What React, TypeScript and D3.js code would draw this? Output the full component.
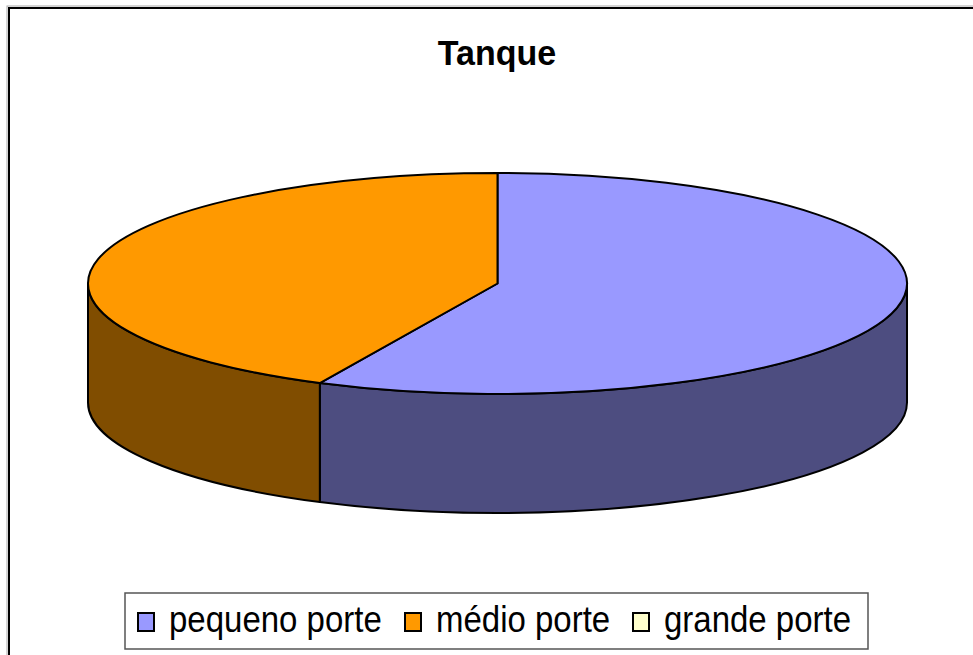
import * as d3 from "d3";
import { useEffect } from "react";

// values (grande porte has no share)
const categories = ["pequeno porte", "médio porte", "grande porte"];
const values = [4, 3, 0];
const topColors = ["#9999FF", "#FF9900", "#FFFFCC"];
const sideColors = ["#4D4D80", "#804D00", "#80806A"];

const W = 973;
const H = 655;

export default function App() {
  useEffect(() => {
    document.body.style.margin = "0";
  }, []);

  // pie geometry
  const cx = 497.5;
  const cy = 283.5;
  const rx = 409.5;
  const ry = 110.5;
  const depth = 119;

  const slices = d3
    .pie<number>()
    .sort(null)
    .startAngle(0)
    .endAngle(2 * Math.PI)(values);

  const arc = d3.arc<d3.PieArcDatum<number>>().innerRadius(0).outerRadius(rx);

  const pt = (a: number, dy = 0) =>
    [cx + rx * Math.sin(a), cy - ry * Math.cos(a) + dy] as const;

  // side wall for the part of a slice that faces the viewer (90°..270°)
  const sidePath = (s: d3.PieArcDatum<number>) => {
    const a0 = Math.max(s.startAngle, Math.PI / 2);
    const a1 = Math.min(s.endAngle, (3 * Math.PI) / 2);
    if (a1 <= a0) return null;
    const p0 = pt(a0);
    const p1 = pt(a1);
    const q1 = pt(a1, depth);
    const q0 = pt(a0, depth);
    const large = a1 - a0 > Math.PI ? 1 : 0;
    return `M${p0[0]},${p0[1]}A${rx},${ry} 0 ${large} 1 ${p1[0]},${p1[1]}L${q1[0]},${q1[1]}A${rx},${ry} 0 ${large} 0 ${q0[0]},${q0[1]}Z`;
  };

  // legend layout
  const legendX = [138, 405, 633];
  const legendTextX = [169, 436, 664];

  return (
    <svg
      width={W}
      height={H}
      style={{ position: "absolute", left: 0, top: 0, background: "#fff" }}
      fontFamily="'Liberation Sans', Arial, sans-serif"
    >
      {/* chart frame */}
      <rect x={7} y={6} width={1000} height={700} fill="none" stroke="#aaa" strokeWidth={1} />
      <rect x={9} y={8} width={1000} height={700} fill="#fff" stroke="#000" strokeWidth={2} />

      <text
        transform="translate(497,65) scale(1,1.05)"
        textAnchor="middle"
        fontSize={34}
        fontWeight="bold"
      >
        Tanque
      </text>

      {/* sides */}
      {slices.map((s, i) => {
        const d = sidePath(s);
        return d ? (
          <path key={"side" + i} d={d} fill={sideColors[i]} stroke="#000" strokeWidth={2} strokeLinejoin="round" />
        ) : null;
      })}

      {/* tops */}
      {slices.map((s, i) =>
        s.endAngle > s.startAngle ? (
          <path
            key={"top" + i}
            d={arc(s) || ""}
            transform={`translate(${cx},${cy}) scale(1,${ry / rx})`}
            fill={topColors[i]}
            stroke="#000"
            strokeWidth={2}
            strokeLinejoin="round"
            vectorEffect="non-scaling-stroke"
          />
        ) : null
      )}

      {/* legend */}
      <rect x={125} y={593} width={743} height={56} fill="#fff" stroke="#555" strokeWidth={1.5} />
      {categories.map((c, i) => (
        <g key={c}>
          <rect x={legendX[i]} y={613} width={16} height={18} fill={topColors[i]} stroke="#000" strokeWidth={2} />
          <text transform={`translate(${legendTextX[i]},632) scale(1,1.1)`} fontSize={33}>
            {c}
          </text>
        </g>
      ))}
    </svg>
  );
}
